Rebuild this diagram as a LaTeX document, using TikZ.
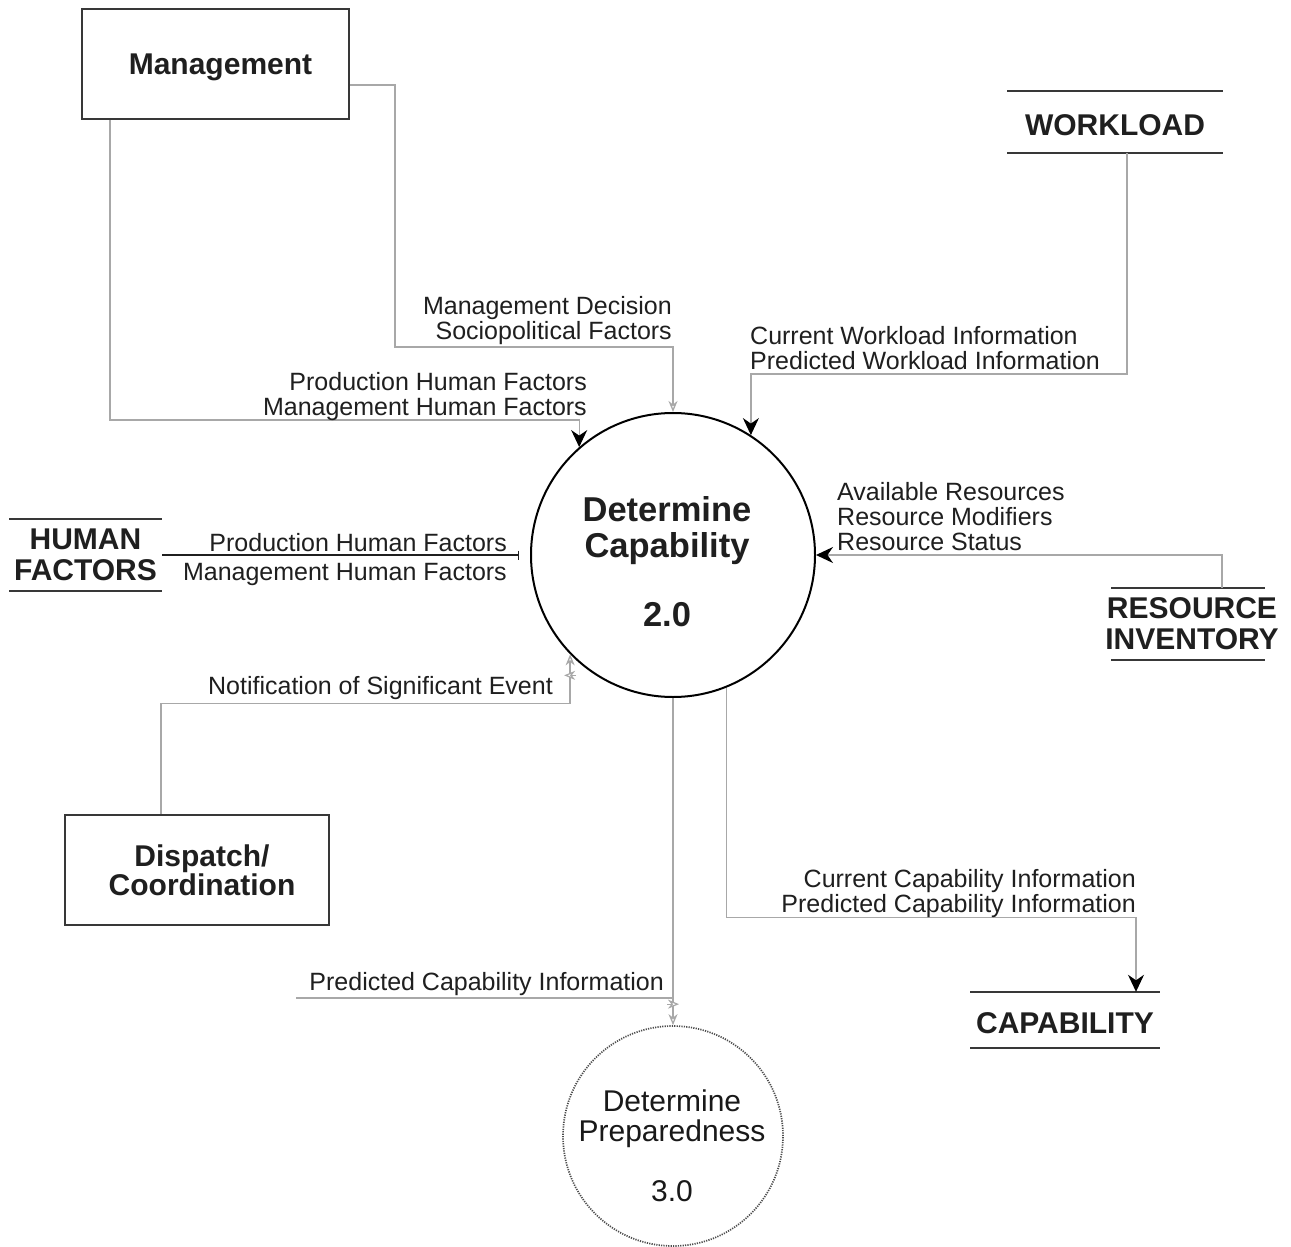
\documentclass[tikz,border=0pt]{standalone}
\usepackage{fontspec}
\setmainfont{Liberation Sans}
\usetikzlibrary{arrows.meta,decorations.markings}
\definecolor{flowgray}{gray}{0.66}
\definecolor{ink}{gray}{0.12}
\definecolor{edgeink}{gray}{0.22}
\newcommand{\lowered}[1]{\raisebox{-3pt}[\height][0pt]{#1}}
\begin{document}
\begin{tikzpicture}[x=1pt,y=-1pt,
  entity/.style={draw=edgeink, line width=2pt, rectangle, inner sep=0pt, align=center,
    font=\bfseries\fontsize{30}{29}\selectfont, text=ink, text depth=0pt},
  storeline/.style={draw=edgeink, line width=2.5pt},
  store/.style 2 args={inner sep=0pt, minimum height=#2, align=center,
    font=\bfseries\fontsize{30}{31}\selectfont, text=ink,
    append after command={
      ([xshift=-#1]\tikzlastnode.north) edge[storeline] ([xshift=#1]\tikzlastnode.north)
      ([xshift=-#1]\tikzlastnode.south) edge[storeline] ([xshift=#1]\tikzlastnode.south)}},
  flow/.style={draw=flowgray, line width=1.3pt},
  solidtip/.style={-{Stealth[length=17pt,width=16pt,inset=5.5pt,color=black]}},
  opentip/.style={-{Stealth[open,length=11pt,width=9pt,inset=3.5pt,fill=white,color=flowgray]}},
  tickat/.style={postaction={decorate,decoration={markings,
    mark=at position #1 with {\draw[flowgray,line width=1.2pt] (0,-6pt) -- (0,6pt);}}}},
  lbl/.style={inner sep=0pt, font=\fontsize{25}{25}\selectfont, text=ink}
]
\fill[white] (0,0) rectangle (1291,1247);
\useasboundingbox (0,0) rectangle (1291,1247);

% external entities
\node[entity, minimum width=267pt, minimum height=110pt] (mgmt) at (215.5,64) {\hspace*{10pt}Management};
\node[entity, minimum width=264pt, minimum height=110pt] (disp) at (197,870) {\hspace*{10pt}Dispatch/\\\hspace*{10pt}Coordination};

% data stores
\node[store={108pt}{62pt}] (wl) at (1115,122) {\lowered{WORKLOAD}};
\node[store={76.5pt}{72pt}] (hf) at (85.5,555) {HUMAN\\FACTORS};
\node[store={77pt}{72pt}] (ri) at (1188,624) {\hspace*{8pt}RESOURCE\\\hspace*{8pt}INVENTORY};
\node[store={95pt}{56pt}] (cap) at (1065,1020) {\lowered{CAPABILITY}};

% processes
\node[circle, draw=black, line width=2pt, minimum size=284pt, inner sep=0pt] (dc) at (673,555) {};
\node[align=center, font=\bfseries\fontsize{34.5}{36}\selectfont, text=ink] (dctext) at (667,562)
  {Determine\\Capability\\[33pt]2.0};
\node[circle, draw={gray!60!black}, line width=1.7pt, dash pattern={on 1.2pt off 1.2pt},
  minimum size=220pt, inner sep=0pt] (dp) at (673,1136) {};
\node[align=center, font=\fontsize{30}{30}\selectfont, text={gray!20!black}] (dptext) at (672,1146)
  {Determine\\Preparedness\\[30pt]3.0};

% data flows
\draw[flow, opentip] ([yshift=-21pt]mgmt.east) -- ++(45,0) |- ([yshift=65pt]dc.north) -- (dc.north);
\draw[flow, solidtip] ([xshift=29pt]mgmt.south west) |- ([yshift=27pt]dc.131) -- (dc.131);
\draw[flow, solidtip] ([xshift=12pt]wl.south) |- ([yshift=61pt]dc.57) -- (dc.57);
\draw[flow, solidtip] ([xshift=34pt]ri.north) |- (dc.east);
\draw[ink, line width=1.3pt, -{Bar[width=9pt,line width=1pt]}] ([xshift=76.5pt]hf.center) -- ([xshift=-11pt]dc.west);
\draw[flow, opentip, tickat=-21pt] ([xshift=-36pt]disp.north) |- ([yshift=-49pt]dc.-136) -- (dc.-136);
\draw[flow, opentip, tickat=-21pt] (dc.south) -- (dp.north);
\coordinate (pcin) at (296,998);
\draw[flow] (pcin) -- (pcin -| dc.south);
\draw[flow, solidtip] (dc.-68.5) |- ([xshift=71pt,yshift=74pt]cap.north) -- ([xshift=71pt]cap.north);

% flow labels
\node[lbl, anchor=east, align=right] (l1) at (672,321) {Management Decision\\Sociopolitical Factors};
\node[lbl, anchor=east, align=right] (l2) at (587,397) {Production Human Factors\\Management Human Factors};
\node[lbl, anchor=west, align=left] (l3) at (750,348) {Current Workload Information\\Predicted Workload Information};
\node[lbl, anchor=west, align=left] (l4) at (837,517) {Available Resources\\Resource Modifiers\\Resource Status};
\node[lbl, anchor=east] (l5) at (507,543) {Production Human Factors};
\node[lbl, anchor=east] (l6) at (507,574) {Management Human Factors};
\node[lbl, anchor=east] (l7) at (553,688) {Notification of Significant Event};
\node[lbl, anchor=east] (l8) at (664,984) {Predicted Capability Information};
\node[lbl, anchor=east, align=right] (l9) at (1136,894) {Current Capability Information\\Predicted Capability Information};
\end{tikzpicture}
\end{document}
